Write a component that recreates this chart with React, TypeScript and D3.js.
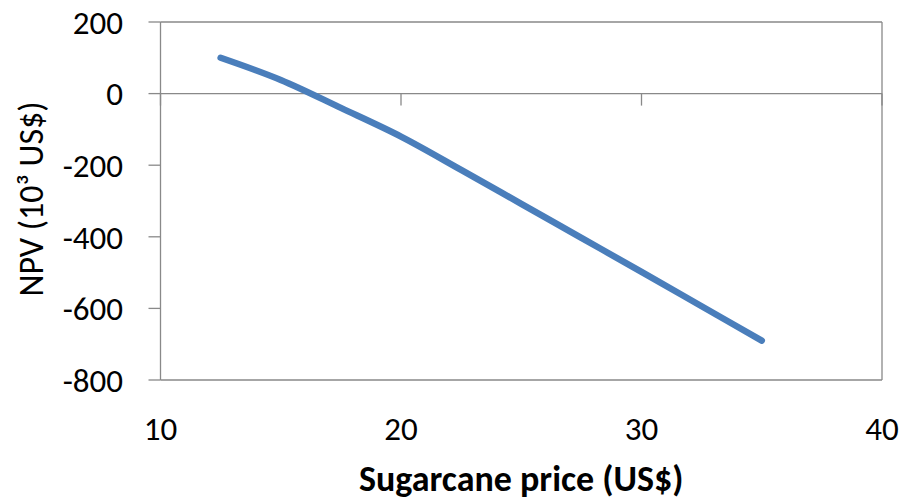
import React from "react";
import * as d3 from "d3";

const prices = [12.5, 15, 17.5, 20, 22.5, 25, 27.5, 30, 32.5, 35];
const npv = [100, 38, -40, -120, -213, -308, -403, -498, -594, -690];
const xTicks = [10, 20, 30, 40];
const yTicks = [200, 0, -200, -400, -600, -800];

const W = 906;
const H = 501;
const FONT = "Carlito, Lato, 'Open Sans', sans-serif";

export default function App() {
  const x = d3.scaleLinear().domain([10, 40]).range([160.5, 882]);
  const y = d3.scaleLinear().domain([-800, 200]).range([380, 22]);
  const pts = prices.map((p, i) => [p, npv[i]] as [number, number]);
  const line = d3
    .line<[number, number]>()
    .x((d) => x(d[0]))
    .y((d) => y(d[1]))
    .curve(d3.curveCatmullRom.alpha(0.5));
  const axisColor = "#898989";
  const x0 = x(10);
  const x1 = x(40);
  const yTop = y(200);
  const yBot = y(-800);
  const yZero = y(0);
  return (
    <svg
      width={W}
      height={H}
      style={{ position: "fixed", left: 0, top: 0, background: "#fff" }}
    >
      <rect x={0} y={0} width={W} height={H} fill="#fff" />
      {/* plot border */}
      <line x1={x0} x2={x1} y1={yTop} y2={yTop} stroke={axisColor} strokeWidth={1.3} />
      <line x1={x0} x2={x1} y1={yBot} y2={yBot} stroke={axisColor} strokeWidth={1.3} />
      <line x1={x1} x2={x1} y1={yTop} y2={yBot} stroke={axisColor} strokeWidth={1.3} />
      {/* y axis */}
      <line x1={x0} x2={x0} y1={yTop} y2={yBot} stroke={axisColor} strokeWidth={1.3} />
      {yTicks.map((t) => (
        <g key={t}>
          <line x1={x0 - 12} x2={x0} y1={y(t)} y2={y(t)} stroke={axisColor} strokeWidth={1.3} />
          <text
            x={123}
            y={y(t)}
            dy="0.36em"
            textAnchor="end"
            fontFamily={FONT}
            fontSize={33}
            fill="#000"
          >
            {t}
          </text>
        </g>
      ))}
      {/* x axis at zero */}
      <line x1={x0} x2={x1} y1={yZero} y2={yZero} stroke={axisColor} strokeWidth={1.3} />
      {xTicks.map((t) => (
        <g key={t}>
          <line x1={x(t)} x2={x(t)} y1={yZero} y2={yZero + 12} stroke={axisColor} strokeWidth={1.3} />
          <text
            x={x(t)}
            y={440}
            textAnchor="middle"
            fontFamily={FONT}
            fontSize={33}
            fill="#000"
          >
            {t}
          </text>
        </g>
      ))}
      {/* data line */}
      <path
        d={line(pts) || ""}
        fill="none"
        stroke="#4a7ebb"
        strokeWidth={6.5}
        strokeLinecap="round"
        strokeLinejoin="round"
      />
      {/* axis titles */}
      <text
        x={(x0 + x1) / 2}
        y={491}
        textAnchor="middle"
        fontFamily={FONT}
        fontSize={36}
        fontWeight="bold"
        fill="#000"
      >
        Sugarcane price (US$)
      </text>
      <text
        transform={`translate(43, 199) rotate(-90)`}
        textAnchor="middle"
        fontFamily={FONT}
        fontSize={34}
        fill="#000"
      >
        NPV (10³ US$)
      </text>
    </svg>
  );
}
